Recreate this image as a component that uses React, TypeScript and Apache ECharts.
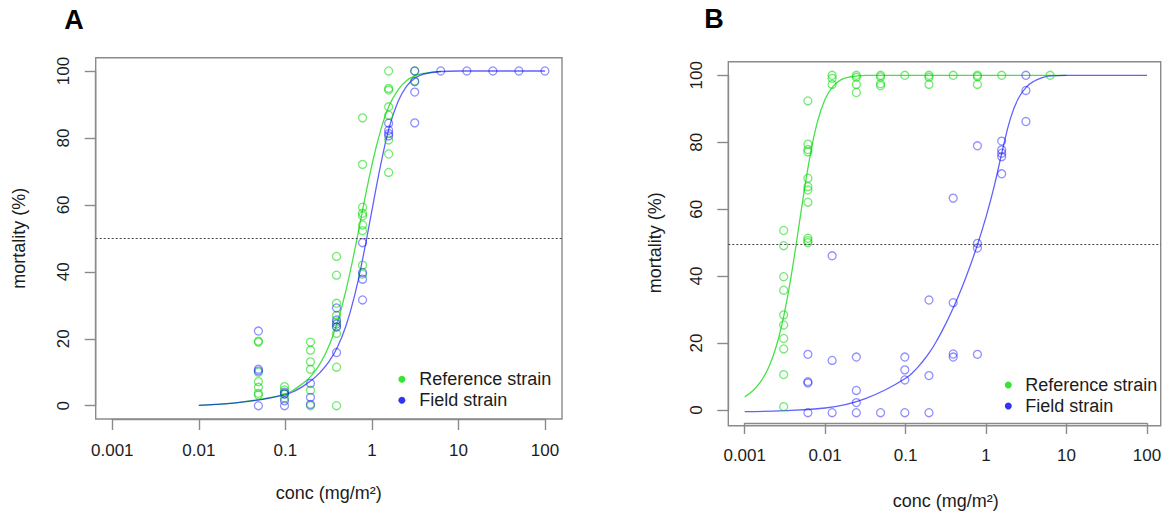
import React, { useEffect, useRef } from "react";
import * as echarts from "echarts";

const FONT = '"Liberation Sans", Arial, Helvetica, sans-serif';
const TEXT = "#1c1c1c";
const FRAME = "#8a8a8a";
const GREEN_PT = "rgba(0,215,0,0.68)";
const BLUE_PT = "rgba(0,0,255,0.55)";
const GREEN_LN = "rgba(0,215,0,0.72)";
const BLUE_LN = "rgba(0,0,255,0.62)";
const GREEN_KEY = "#00e000";
const BLUE_KEY = "#0000f0";

const seriesNames = ["Reference strain", "Field strain"];
const panelLabels = ["A", "B"];
const xTitle = "conc (mg/m²)";
const yTitle = "mortality (%)";
const xTickRange = [0.001, 100];
const yTicks = { min: 0, max: 100, step: 20 };
const threshold = 50;

// ---------- Panel A : observations [dose, mortality %] ----------
const referenceA: [number, number][] = [
  [0.0488, 19.3], [0.0488, 19.0], [0.0488, 10.0], [0.0488, 7.2], [0.0488, 5.5], [0.0488, 3.7], [0.0488, 3.2],
  [0.0977, 5.7], [0.0977, 4.7], [0.0977, 3.5], [0.0977, 2.2],
  [0.195, 19.0], [0.195, 16.6], [0.195, 13.1], [0.195, 10.9], [0.195, 4.6], [0.195, 0],
  [0.39, 44.6], [0.39, 39.0], [0.39, 30.6], [0.39, 27.0], [0.39, 25.0], [0.39, 23.6], [0.39, 21.6], [0.39, 11.5], [0.39, 0],
  [0.78, 86.0], [0.78, 72.1], [0.78, 59.3], [0.78, 57.5], [0.78, 56.7], [0.78, 54.0], [0.78, 52.3], [0.78, 42.0], [0.78, 39.3],
  [1.5625, 100], [1.5625, 94.8], [1.5625, 94.3], [1.5625, 89.3], [1.5625, 86.8], [1.5625, 79.4], [1.5625, 75.2], [1.5625, 69.7],
  [3.125, 100], [3.125, 97.0],
];
const fieldA: [number, number][] = [
  [0.0488, 22.3], [0.0488, 10.9], [0.0488, 10.4], [0.0488, 0],
  [0.0977, 4.0], [0.0977, 3.5], [0.0977, 1.5], [0.0977, 0],
  [0.195, 6.7], [0.195, 2.5], [0.195, 0.4],
  [0.39, 29.2], [0.39, 25.6], [0.39, 24.4], [0.39, 23.5], [0.39, 15.9],
  [0.78, 48.7], [0.78, 39.8], [0.78, 37.8], [0.78, 31.6],
  [1.5625, 84.4], [1.5625, 82.3], [1.5625, 81.3], [1.5625, 80.6],
  [3.125, 100], [3.125, 96.8], [3.125, 93.7], [3.125, 84.5],
  [6.25, 100], [12.5, 100], [25, 100], [50, 100], [100, 100],
];
// fitted curves [dose, mortality %]
const referenceCurveA: [number, number][] = [
  [0.01, 0.1], [0.0158, 0.4], [0.0251, 0.8], [0.0398, 1.5], [0.0631, 2.3], [0.1, 3.5], [0.126, 4.8],
  [0.158, 6.6], [0.2, 9.0], [0.251, 12.5], [0.316, 17.6], [0.398, 24.8], [0.501, 34.4], [0.631, 46.3],
  [0.794, 59.4], [1.0, 71.9], [1.26, 82.2], [1.58, 89.6], [2.0, 94.3], [2.51, 97.1], [3.16, 98.6],
  [3.98, 99.3], [6.31, 99.9],
];
const fieldCurveA: [number, number][] = [
  [0.01, 0.1], [0.0158, 0.4], [0.0251, 0.8], [0.0398, 1.4], [0.0631, 2.2], [0.1, 3.3], [0.126, 4.3],
  [0.158, 5.7], [0.2, 7.6], [0.251, 9.9], [0.316, 13.0], [0.398, 17.4], [0.501, 23.8], [0.631, 32.9],
  [0.794, 44.7], [1.0, 58.3], [1.26, 71.8], [1.58, 83.0], [2.0, 90.8], [2.51, 95.4], [3.16, 97.9],
  [3.98, 99.1], [6.31, 99.85], [10, 100], [100, 100],
];

// ---------- Panel B : observations [dose, mortality %] ----------
const referenceB: [number, number][] = [
  [0.00305, 54.0], [0.00305, 49.5], [0.00305, 40.3], [0.00305, 36.3], [0.00305, 29.0], [0.00305, 26.0],
  [0.00305, 22.0], [0.00305, 18.9], [0.00305, 11.3], [0.00305, 1.8],
  [0.0061, 92.4], [0.0061, 79.6], [0.0061, 78.0], [0.0061, 77.3], [0.0061, 69.5], [0.0061, 67.0],
  [0.0061, 66.0], [0.0061, 62.4], [0.0061, 51.7], [0.0061, 51.0], [0.0061, 50.4],
  [0.0122, 100], [0.0122, 99.1], [0.0122, 97.3],
  [0.0244, 100], [0.0244, 99.4], [0.0244, 97.3], [0.0244, 94.9],
  [0.0488, 100], [0.0488, 99.5], [0.0488, 97.5], [0.0488, 96.9],
  [0.0977, 100],
  [0.195, 100], [0.195, 99.4], [0.195, 97.3],
  [0.39, 100],
  [0.78, 100], [0.78, 99.6], [0.78, 97.3],
  [1.5625, 100],
  [6.25, 100],
];
const fieldB: [number, number][] = [
  [0.0061, 17.3], [0.0061, 9.2], [0.0061, 8.8], [0.0061, 0],
  [0.0122, 46.5], [0.0122, 15.5], [0.0122, 0],
  [0.0244, 16.5], [0.0244, 6.6], [0.0244, 3.0], [0.0244, 0],
  [0.0488, 0],
  [0.0977, 16.5], [0.0977, 12.7], [0.0977, 9.7], [0.0977, 0],
  [0.195, 33.4], [0.195, 11.0], [0.195, 0],
  [0.39, 63.6], [0.39, 32.6], [0.39, 17.4], [0.39, 16.5],
  [0.78, 79.1], [0.78, 50.2], [0.78, 48.8], [0.78, 17.3],
  [1.5625, 80.5], [1.5625, 77.9], [1.5625, 76.9], [1.5625, 75.9], [1.5625, 70.8],
  [3.125, 100], [3.125, 95.5], [3.125, 86.3],
];
const referenceCurveB: [number, number][] = [
  [0.001, 4.7], [0.00126, 6.5], [0.00158, 9.2], [0.002, 13.6], [0.00251, 20.3], [0.00316, 30.3],
  [0.00398, 43.8], [0.00501, 59.5], [0.00631, 74.5], [0.00794, 85.9], [0.01, 93.0], [0.0126, 96.8],
  [0.0158, 98.7], [0.02, 99.5], [0.0316, 99.95], [0.1, 100], [10, 100],
];
const fieldCurveB: [number, number][] = [
  [0.001, 0.3], [0.00316, 0.6], [0.01, 1.4], [0.0178, 2.4], [0.0316, 4.2], [0.0562, 6.8], [0.1, 10.2],
  [0.126, 12.2], [0.158, 14.8], [0.2, 18.0], [0.251, 21.9], [0.316, 26.4], [0.398, 31.5], [0.501, 37.1],
  [0.631, 43.4], [0.794, 50.3], [1.0, 58.1], [1.26, 67.1], [1.58, 77.3], [2.0, 87.1], [2.51, 93.1],
  [3.16, 96.5], [3.98, 98.3], [5.01, 99.3], [6.31, 99.8], [10, 100], [100, 100],
];

// ---------- layout (pixels) ----------
const layout = [
  {
    box: { left: 95.7, top: 57.7, width: 466.3, height: 361.3 },
    axes: { left: 112.3, top: 71, width: 432.7, height: 334.7 },
    xLim: [Math.pow(10, -3.192), Math.pow(10, 2.197)],
    yLim: [-3.97, 103.97],
    xOffset: 13.3, yOffset: 16.6,
    xLabelMargin: 22.5, yLabelMargin: 24, xNameGap: 65, yNameGap: 68,
    legend: { left: 398.4, top: 368.8, itemWidth: 24.6 },
    title: { left: 64.3, top: 6.5 },
  },
  {
    box: { left: 728.3, top: 61.7, width: 432.4, height: 364 },
    axes: { left: 744.7, top: 75.3, width: 402.3, height: 337.4 },
    xLim: [Math.pow(10, -3.204), Math.pow(10, 2.17)],
    yLim: [-3.85, 104.03],
    xOffset: 13, yOffset: 16.4,
    xLabelMargin: 24, yLabelMargin: 23.8, xNameGap: 69, yNameGap: 64.3,
    legend: { left: 1004.8, top: 374.5, itemWidth: 24 },
    title: { left: 704.3, top: 5.5 },
  },
];

const panelData = [
  { ref: referenceA, field: fieldA, refCurve: referenceCurveA, fieldCurve: fieldCurveA },
  { ref: referenceB, field: fieldB, refCurve: referenceCurveB, fieldCurve: fieldCurveB },
];

const fmtLog = (v: number) => String(parseFloat(Number(v).toPrecision(4)));

function buildOption() {
  const grid: any[] = [];
  const xAxis: any[] = [];
  const yAxis: any[] = [];
  const series: any[] = [];
  const legend: any[] = [];
  const title: any[] = [];

  layout.forEach((L, p) => {
    const boxIdx = grid.length;
    grid.push({ ...L.box, show: true, borderColor: FRAME, borderWidth: 1.4, backgroundColor: "transparent", containLabel: false });
    const axIdx = grid.length;
    grid.push({ ...L.axes, show: false, containLabel: false });

    xAxis.push({ gridIndex: boxIdx, type: "log", logBase: 10, min: L.xLim[0], max: L.xLim[1], show: false });
    yAxis.push({ gridIndex: boxIdx, type: "value", min: L.yLim[0], max: L.yLim[1], show: false });
    const dataX = xAxis.length - 1;
    const dataY = yAxis.length - 1;

    xAxis.push({
      gridIndex: axIdx, type: "log", logBase: 10, min: xTickRange[0], max: xTickRange[1], offset: L.xOffset,
      axisLine: { show: true, onZero: false, lineStyle: { color: FRAME, width: 1.4 } },
      axisTick: { show: true, length: 11, lineStyle: { color: FRAME, width: 1.4 } },
      minorTick: { show: false }, splitLine: { show: false },
      axisLabel: { margin: L.xLabelMargin, fontSize: 17, color: TEXT, fontFamily: FONT, formatter: fmtLog, showMinLabel: true, showMaxLabel: true },
      name: xTitle, nameLocation: "middle", nameGap: L.xNameGap,
      nameTextStyle: { fontSize: 18, color: TEXT, fontFamily: FONT },
    });
    yAxis.push({
      gridIndex: axIdx, type: "value", min: yTicks.min, max: yTicks.max, interval: yTicks.step, offset: L.yOffset,
      axisLine: { show: true, onZero: false, lineStyle: { color: FRAME, width: 1.4 } },
      axisTick: { show: true, length: 11, lineStyle: { color: FRAME, width: 1.4 } },
      splitLine: { show: false },
      axisLabel: { margin: L.yLabelMargin, rotate: 90, fontSize: 17, color: TEXT, fontFamily: FONT },
      name: yTitle, nameLocation: "middle", nameRotate: 90, nameGap: L.yNameGap,
      nameTextStyle: { fontSize: 18, color: TEXT, fontFamily: FONT },
    });

    const d = panelData[p];
    const pts = (name: string, data: [number, number][], color: string, extra: any = {}) => ({
      type: "scatter", name, xAxisIndex: dataX, yAxisIndex: dataY, data,
      symbol: "circle", symbolSize: 8,
      itemStyle: { color: "transparent", borderColor: color, borderWidth: 1.3 },
      emphasis: { disabled: true }, silent: true, z: 3, ...extra,
    });
    const curve = (name: string, data: [number, number][], color: string) => ({
      type: "line", name, xAxisIndex: dataX, yAxisIndex: dataY, data,
      showSymbol: false, smooth: 0.45,
      lineStyle: { color, width: 1.3 }, itemStyle: { color },
      emphasis: { disabled: true }, silent: true, z: 2,
    });

    series.push(
      pts(seriesNames[0], d.ref, GREEN_PT, {
        markLine: {
          silent: true, symbol: "none", label: { show: false },
          lineStyle: { color: "#444", width: 1, type: [2, 2] },
          data: [{ yAxis: threshold }],
        },
      })
    );
    series.push(pts(seriesNames[1], d.field, BLUE_PT));
    series.push(curve(seriesNames[0], d.refCurve, GREEN_LN));
    series.push(curve(seriesNames[1], d.fieldCurve, BLUE_LN));

    legend.push({
      show: true, orient: "vertical", left: L.legend.left, top: L.legend.top, padding: 0,
      itemWidth: L.legend.itemWidth, itemHeight: 7, itemGap: 0, selectedMode: false,
      textStyle: { fontSize: 18, color: TEXT, fontFamily: FONT, lineHeight: 21 },
      data: [
        { name: seriesNames[0], icon: "circle", itemStyle: { color: GREEN_KEY, borderWidth: 0, borderColor: "transparent" } },
        { name: seriesNames[1], icon: "circle", itemStyle: { color: BLUE_KEY, borderWidth: 0, borderColor: "transparent" } },
      ],
    });

    title.push({
      text: panelLabels[p], left: L.title.left, top: L.title.top, padding: 0,
      textStyle: { fontSize: 27, fontWeight: "bold", color: "#000", fontFamily: FONT, lineHeight: 27 },
    });
  });

  return { animation: false, backgroundColor: "#fff", title, legend, grid, xAxis, yAxis, series, tooltip: { show: false } };
}

export default function App() {
  const ref = useRef<HTMLDivElement>(null);
  useEffect(() => {
    document.body.style.margin = "0";
    if (!ref.current) return;
    const chart = echarts.init(ref.current, null, { renderer: "svg" });
    chart.setOption(buildOption() as any);
    return () => chart.dispose();
  }, []);
  return <div ref={ref} style={{ width: 1168, height: 515, background: "#fff" }} />;
}
